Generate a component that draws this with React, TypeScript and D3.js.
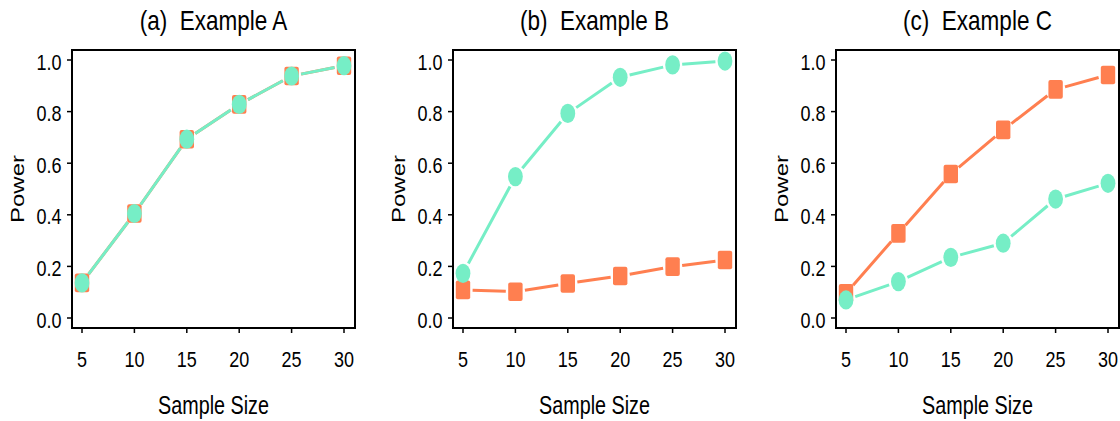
import React from "react";
import * as d3 from "d3";

// Sample sizes on the x axis
const sampleSizes = [5, 10, 15, 20, 25, 30];
const yTicks = [0, 0.2, 0.4, 0.6, 0.8, 1.0];

// Power of the two tests for each example
const exampleA_circle = [0.136, 0.405, 0.693, 0.828, 0.938, 0.978];
const exampleA_square = [0.136, 0.405, 0.693, 0.828, 0.938, 0.978];
const exampleB_circle = [0.173, 0.548, 0.793, 0.933, 0.981, 0.996];
const exampleB_square = [0.109, 0.102, 0.134, 0.163, 0.199, 0.225];
const exampleC_circle = [0.07, 0.141, 0.235, 0.29, 0.461, 0.522];
const exampleC_square = [0.096, 0.328, 0.558, 0.729, 0.886, 0.942];

const titles = ["(a)  Example A", "(b)  Example B", "(c)  Example C"];

const TEAL = "#76EEC6";
const CORAL = "#FF7F50";
const FONT = "'Liberation Sans', Arial, Helvetica, sans-serif";
const SX = 0.79; // horizontal text compression
const TICK_SX = 0.8;

const panels = [
  { left: 72, title: titles[0], circle: exampleA_circle, square: exampleA_square },
  { left: 453, title: titles[1], circle: exampleB_circle, square: exampleB_square },
  { left: 836, title: titles[2], circle: exampleC_circle, square: exampleC_square },
];

const BOX_W = 283;
const BOX_TOP = 50;
const BOX_BOTTOM = 328;

// Segments between consecutive points, trimmed so they stop short of each marker
function gappedSegments(pts: [number, number][], gap: number, ax: number) {
  const segs: string[] = [];
  for (let i = 0; i < pts.length - 1; i++) {
    const [x1, y1] = pts[i];
    const [x2, y2] = pts[i + 1];
    const dx = (x2 - x1) / ax;
    const dy = y2 - y1;
    const len = Math.hypot(dx, dy);
    if (len <= 2 * gap) continue;
    const ux = dx / len;
    const uy = dy / len;
    const sx = x1 + ux * gap * ax;
    const sy = y1 + uy * gap;
    const ex = x2 - ux * gap * ax;
    const ey = y2 - uy * gap;
    segs.push(`M${sx},${sy}L${ex},${ey}`);
  }
  return segs.join("");
}

function Panel({ left, title, circle, square }: any) {
  const x = d3.scaleLinear().domain([5, 30]).range([left + 10, left + 272]);
  const y = d3.scaleLinear().domain([0, 1]).range([318, 60]);
  const cx = left + BOX_W / 2;
  const circlePts = sampleSizes.map((s, i) => [x(s), y(circle[i])] as [number, number]);
  const squarePts = sampleSizes.map((s, i) => [x(s), y(square[i])] as [number, number]);
  return (
    <g>
      <text
        transform={`translate(${cx},29.5) scale(${SX},1)`}
        textAnchor="middle"
        fontSize={28.5}
        fontFamily={FONT}
        fill="#000"
        style={{ whiteSpace: "pre" }}
      >
        {title}
      </text>
      <rect
        x={left}
        y={BOX_TOP}
        width={BOX_W}
        height={BOX_BOTTOM - BOX_TOP}
        fill="none"
        stroke="#000"
        strokeWidth={2}
      />
      {yTicks.map((t) => (
        <g key={"y" + t}>
          <line x1={left - 5} x2={left} y1={y(t)} y2={y(t)} stroke="#000" strokeWidth={1.5} />
          <text
            transform={`translate(${left - 10.5},${y(t) + 9.5}) scale(${TICK_SX},1)`}
            textAnchor="end"
            fontSize={22.5}
            fontFamily={FONT}
            fill="#000"
          >
            {d3.format(".1f")(t)}
          </text>
        </g>
      ))}
      {sampleSizes.map((s) => (
        <g key={"x" + s}>
          <line x1={x(s)} x2={x(s)} y1={BOX_BOTTOM} y2={BOX_BOTTOM + 5} stroke="#000" strokeWidth={1.5} />
          <text
            transform={`translate(${x(s)},367) scale(${TICK_SX},1)`}
            textAnchor="middle"
            fontSize={22.5}
            fontFamily={FONT}
            fill="#000"
          >
            {s}
          </text>
        </g>
      ))}
      <text
        transform={`translate(${cx},414) scale(${SX},1)`}
        textAnchor="middle"
        fontSize={25}
        fontFamily={FONT}
        fill="#000"
      >
        Sample Size
      </text>
      <text
        transform={`translate(${left - 48},${y(0.5)}) scale(${SX},1) rotate(-90)`}
        textAnchor="middle"
        fontSize={24}
        fontFamily={FONT}
        fill="#000"
      >
        Power
      </text>
      {/* square-marker series */}
      <path d={gappedSegments(squarePts, 12, 0.8)} stroke={CORAL} strokeWidth={3} fill="none" />
      {squarePts.map(([px, py], i) => (
        <rect key={"s" + i} x={px - 7.2} y={py - 9.3} width={14.4} height={18.6} rx={2} fill={CORAL} />
      ))}
      {/* circle-marker series */}
      <path d={gappedSegments(circlePts, 12, 0.8)} stroke={TEAL} strokeWidth={3} fill="none" />
      {circlePts.map(([px, py], i) => (
        <ellipse key={"c" + i} cx={px} cy={py} rx={7.4} ry={9.6} fill={TEAL} />
      ))}
    </g>
  );
}

export default function App() {
  return (
    <svg
      width={1120}
      height={421}
      style={{ position: "absolute", left: 0, top: 0, background: "#fff" }}
    >
      <rect width={1120} height={421} fill="#fff" />
      {panels.map((p) => (
        <Panel key={p.title} {...p} />
      ))}
    </svg>
  );
}
